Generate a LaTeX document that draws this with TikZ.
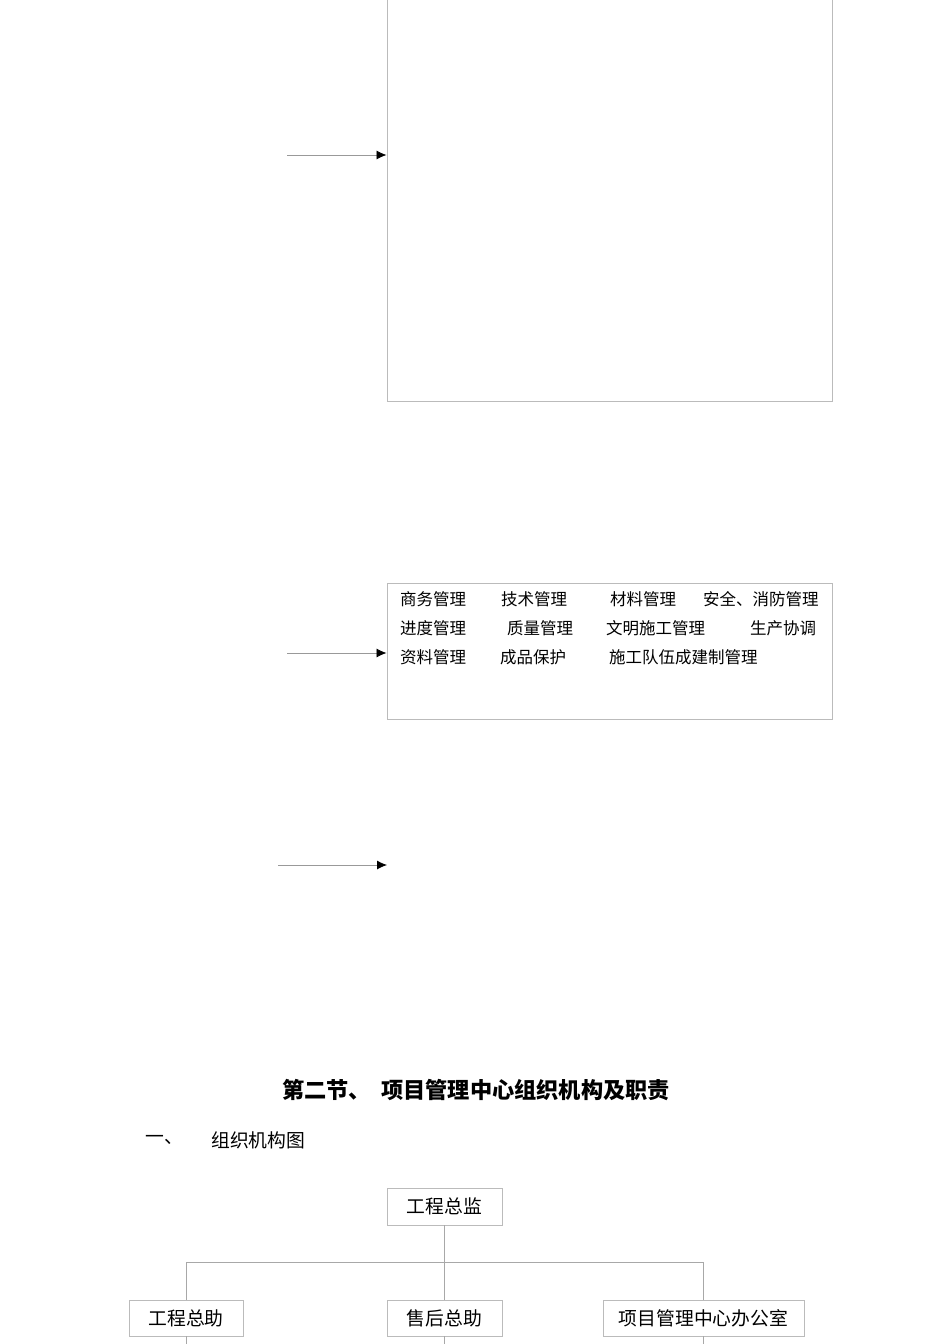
\documentclass[tikz,border=0pt]{standalone}
\usepackage{fontspec}
\newfontfamily\cjk{Noto Sans CJK SC}
\usetikzlibrary{arrows.meta}
\definecolor{boxgray}{HTML}{BBBBBB}
\definecolor{linegray}{HTML}{A8A8A8}
\definecolor{arrgray}{HTML}{999999}
\begin{document}
\begin{tikzpicture}[x=1pt,y=-1pt,
  every node/.style={font=\cjk},
  bigbox/.style={draw=boxgray,line width=0.9pt},
  arrowline/.style={draw=arrgray,line width=0.8pt,-{Latex[length=10pt,width=9pt,black]}},
  item/.style={anchor=west,inner sep=0pt,font=\cjk\fontsize{16.5}{16.5}\selectfont},
  orgbox/.style={draw=boxgray,line width=0.9pt,inner sep=0pt,font=\cjk\fontsize{18.8}{18.8}\selectfont},
  orgline/.style={draw=linegray,line width=0.8pt}]
\useasboundingbox (0,0) rectangle (950,1344);
\fill[white] (0,0) rectangle (950,1344);
% top box (top edge above the page)
\node[bigbox,minimum width=445pt,minimum height=420pt,inner sep=0pt] (box1) at (609.5,191) {};
% second box
\node[bigbox,minimum width=445pt,minimum height=136pt,inner sep=0pt] (box2) at (609.5,651) {};
% arrows
\coordinate (s1) at (287,155);
\coordinate (s2) at (287,653);
\coordinate (s3) at (278,865);
\coordinate (e3) at (387,865);
\draw[arrowline] (s1) -- (s1 -| box1.west);
\draw[arrowline] (s2) -- (s2 -| box2.west);
\draw[arrowline] (s3) -- (e3);
% box2 items
\node[item] (i11) at (400,599) {商务管理};
\node[item] (i12) at (501,599) {技术管理};
\node[item] (i13) at (610,599) {材料管理};
\node[item] (i14) at (703,599) {安全、消防管理};
\node[item] (i21) at (400,628) {进度管理};
\node[item] (i22) at (507,628) {质量管理};
\node[item] (i23) at (606,628) {文明施工管理};
\node[item] (i24) at (750,628) {生产协调};
\node[item] (i31) at (400,657) {资料管理};
\node[item] (i32) at (500,657) {成品保护};
\node[item] (i33) at (609,657) {施工队伍成建制管理};
% headings
\node[anchor=west,inner sep=0pt,font=\cjk\bfseries\fontsize{22.2}{22.2}\selectfont] (t1) at (282,1090) {第二节、};
\node[anchor=west,inner sep=0pt,font=\cjk\bfseries\fontsize{22.2}{22.2}\selectfont] (t2) at (381,1090) {项目管理中心组织机构及职责};
\node[anchor=west,inner sep=0pt,font=\cjk\fontsize{18.8}{18.8}\selectfont] (h1) at (145,1140) {一、};
\node[anchor=west,inner sep=0pt,font=\cjk\fontsize{18.8}{18.8}\selectfont] (h2) at (211,1140) {组织机构图};
% org chart
\node[orgbox,minimum width=115pt,minimum height=37pt] (top) at (444.5,1206.5) {工程总监};
\node[orgbox,minimum width=114pt,minimum height=36pt] (gz) at (186,1318) {工程总助};
\node[orgbox,minimum width=115pt,minimum height=36pt] (sh) at (444.5,1318) {售后总助};
\node[orgbox,minimum width=201pt,minimum height=36pt] (bg) at (703.5,1318) {项目管理中心办公室};
\coordinate (bus) at (444.5,1262);
\coordinate (bot) at (444.5,1350);
\draw[orgline] (top.south) -- (sh.north);
\draw[orgline] (gz.north) -- (gz.north |- bus) -- (bg.north |- bus) -- (bg.north);
\draw[orgline] (gz.south) -- (gz.south |- bot);
\draw[orgline] (sh.south) -- (sh.south |- bot);
\draw[orgline] (bg.south) -- (bg.south |- bot);
\end{tikzpicture}
\end{document}
